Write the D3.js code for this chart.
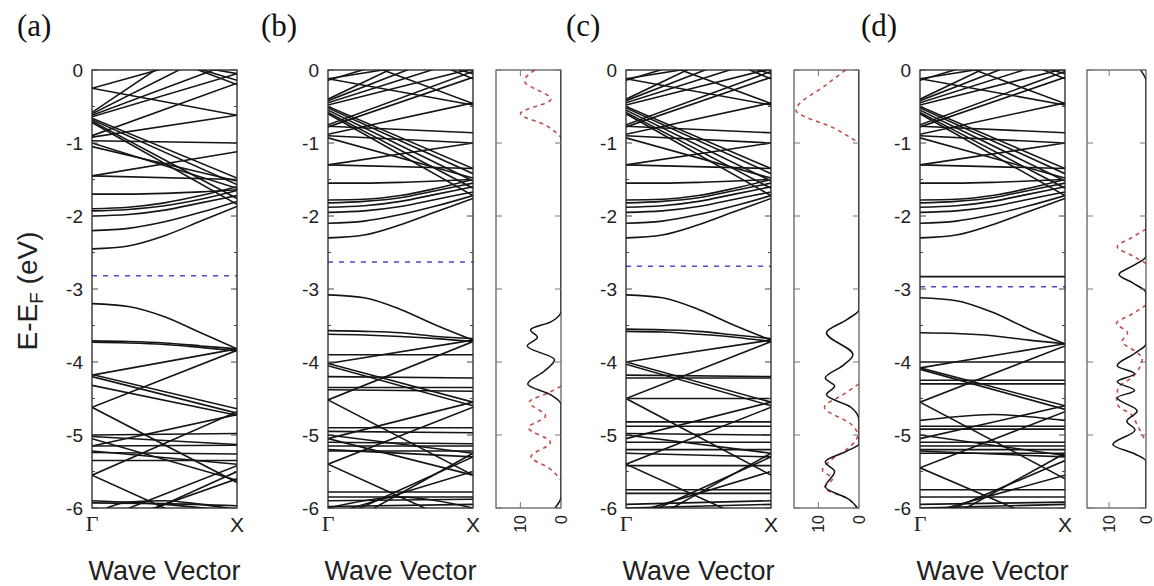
<!DOCTYPE html>
<html>
<head>
<meta charset="utf-8">
<script src="https://cdn.jsdelivr.net/npm/d3@7"></script>
<style>
  body { margin: 0; background: #fff; }
  text { font-family: "Liberation Sans", Arial, sans-serif; }
</style>
</head>
<body>
<script>
// energies (eV) of each band, sampled evenly from Gamma (first) to X (last)
var bandsA = [
  [-0.25, -0.62], [-0.25, 0.3], [-0.58, 0.75], [-0.6, 0.4], [-0.62, 0.12], [-0.64, -0.05],
  [-0.66, -1.48], [-0.68, -1.57], [-0.7, -1.76], [-0.72, -1.84],
  [-0.9, -0.18], [-0.92, -0.62], [-0.97, -1.0], [-1.0, -1.62], [-1.05, -1.52],
  [-1.45, -1.12], [-1.45, -1.5],
  [-1.7, -1.7, -1.69, -1.67, -1.64],
  [-1.9, -1.88, -1.82, -1.72, -1.6],
  [-1.93, -1.91, -1.86, -1.77, -1.65],
  [-2.0, -1.98, -1.92, -1.82, -1.72],
  [-2.2, -2.17, -2.08, -1.95, -1.8],
  [-2.45, -2.41, -2.27, -2.07, -1.87],
  [0.55, -0.2], [0.3, -0.05], [0.45, -0.14],
  [-3.2, -3.24, -3.38, -3.6, -3.82],
  [-3.71, -3.72, -3.74, -3.78, -3.82],
  [-3.73, -3.74, -3.76, -3.8, -3.85],
  [-4.18, -3.82], [-4.62, -3.84], [-4.17, -4.64], [-4.2, -4.7], [-4.32, -4.73],
  [-4.62, -5.65], [-5.0, -4.98], [-5.02, -5.13], [-5.05, -5.62], [-5.15, -4.72],
  [-5.15, -5.14], [-5.22, -5.4], [-5.24, -5.26], [-5.35, -5.35], [-5.55, -4.68],
  [-5.55, -6.45], [-6.2, -5.42], [-6.3, -5.6], [-6.4, -5.5],
  [-5.9, -5.95, -6.05], [-5.93, -5.94, -5.97],
  [-6.1, -5.92, -5.9, -5.95, -6.02]
];

var upperBCD = [
  [-0.12, -0.48], [-0.12, 0.2], [-0.14, 0.45],
  [-0.4, 0.55], [-0.42, 0.35], [-0.45, 0.18], [-0.48, 0.02],
  [-0.5, -1.35], [-0.52, -1.42], [-0.55, -1.52], [-0.58, -1.62], [-0.6, -1.72],
  [-0.75, -0.02], [-0.78, -0.1], [-0.77, -0.86], [-0.88, -0.45], [-0.9, -1.0], [-0.93, -1.48],
  [-1.3, -1.0], [-1.3, -1.35],
  [-1.55, -1.55, -1.54, -1.52, -1.5],
  [-1.78, -1.77, -1.72, -1.62, -1.5],
  [-1.82, -1.8, -1.75, -1.65, -1.55],
  [-1.88, -1.86, -1.8, -1.7, -1.6],
  [-1.95, -1.93, -1.87, -1.77, -1.67],
  [-2.1, -2.07, -1.98, -1.86, -1.72],
  [-2.3, -2.26, -2.12, -1.94, -1.76],
  [0.5, -0.05], [0.35, 0.0], [0.28, -0.46], [0.7, -0.12]
];

var lowerB = [
  [-3.08, -3.12, -3.28, -3.5, -3.7],
  [-3.57, -3.58, -3.6, -3.65, -3.68],
  [-3.62, -3.63, -3.65, -3.68, -3.72],
  [-3.9, -3.9], [-4.02, -3.7], [-4.02, -4.55], [-4.05, -4.6], [-4.2, -4.22],
  [-4.35, -4.35], [-4.38, -4.4], [-4.52, -3.72], [-4.52, -5.55], [-4.9, -4.9],
  [-4.95, -4.97], [-5.0, -5.25], [-5.05, -4.55], [-5.1, -5.12], [-5.15, -5.15],
  [-5.2, -5.3], [-5.22, -5.22], [-5.4, -4.62], [-5.4, -6.3], [-5.05, -5.55],
  [-5.78, -5.78], [-5.85, -5.85], [-5.9, -5.88], [-6.2, -5.3], [-6.1, -5.5],
  [-6.35, -5.25], [-5.98, -5.95], [-6.0, -5.9, -5.85, -5.9, -6.0]
];

var lowerC = [
  [-3.08, -3.12, -3.28, -3.5, -3.7],
  [-3.55, -3.56, -3.58, -3.63, -3.68],
  [-3.58, -3.59, -3.62, -3.66, -3.72],
  [-4.0, -3.7], [-4.0, -4.55], [-4.03, -4.6], [-4.18, -4.2], [-4.22, -4.22],
  [-4.5, -3.72], [-4.5, -4.5], [-4.5, -5.55], [-4.82, -4.82], [-4.88, -4.88],
  [-4.98, -5.0], [-5.0, -5.25], [-5.05, -4.55], [-5.1, -5.1], [-5.2, -5.2],
  [-5.25, -5.3], [-5.42, -5.42], [-5.4, -4.62], [-5.4, -6.3], [-5.75, -5.75],
  [-5.8, -5.8], [-5.95, -5.9], [-6.2, -5.3], [-6.1, -5.5], [-6.35, -5.25], [-6.0, -5.95]
];

var lowerD = [
  [-2.83, -2.83],
  [-3.12, -3.16, -3.32, -3.55, -3.75],
  [-3.6, -3.61, -3.64, -3.7, -3.75],
  [-4.0, -4.0], [-4.08, -3.75], [-4.08, -4.6], [-4.1, -4.65], [-4.25, -4.25],
  [-4.3, -4.3], [-4.55, -3.78], [-4.55, -5.6],
  [-4.8, -4.75, -4.72, -4.75, -4.8],
  [-4.88, -4.88], [-4.92, -4.92], [-5.0, -5.28], [-5.05, -4.6], [-5.1, -5.1],
  [-5.15, -5.15], [-5.2, -5.2], [-5.25, -5.25], [-5.22, -5.3], [-5.45, -4.68],
  [-5.45, -6.3], [-5.75, -5.75], [-5.85, -5.85], [-5.95, -5.92],
  [-6.2, -5.35], [-6.1, -5.55], [-6.35, -5.25], [-6.0, -5.95]
];

var fermiLevels = [-2.82, -2.63, -2.69, -2.97];

// density of states: [energy, value]
var dosBlackB = [[0, 0], [-3.3, 0], [-3.45, 2.5], [-3.56, 7.5], [-3.66, 5.8], [-3.78, 8.3],
  [-3.97, 1.6], [-4.12, 4], [-4.3, 8.2], [-4.45, 2.5], [-4.58, 0], [-5.85, 0], [-6, 1.5]];
var dosRedB = [
  [[0, 6.5], [-0.15, 9], [-0.4, 2.5], [-0.6, 10], [-0.75, 4], [-0.92, 0]],
  [[-4.33, 0], [-4.42, 3], [-4.55, 7.8], [-4.74, 3.8], [-4.9, 8], [-5.1, 2.6], [-5.3, 7.4], [-5.45, 3], [-5.62, 0]]
];
var dosBlackC = [[0, 0], [-3.28, 0], [-3.42, 3], [-3.6, 8], [-3.9, 1.5], [-4.05, 4], [-4.22, 8.3],
  [-4.33, 6], [-4.45, 8], [-4.62, 2], [-4.8, 0], [-5.12, 0], [-5.22, 3], [-5.37, 8.3],
  [-5.5, 6], [-5.71, 8.3], [-5.88, 2.5], [-6, 0.3]];
var dosRedC = [
  [[0, 3.3], [-0.2, 8], [-0.55, 15.5], [-0.8, 6], [-1.0, 0]],
  [[-4.3, 0], [-4.45, 4], [-4.62, 8.5], [-4.85, 2], [-5.0, 0.3], [-5.15, 2], [-5.35, 7],
   [-5.48, 9], [-5.6, 6.5], [-5.72, 8.5], [-5.88, 2.5], [-6, 0.5]]
];
var dosBlackD = [[0, 1.5], [-0.15, 0], [-2.55, 0], [-2.68, 3.5], [-2.8, 7.3], [-2.92, 3.5],
  [-3.05, 0], [-3.75, 0], [-3.88, 3], [-4.05, 7.8], [-4.16, 3.1], [-4.27, 7.8], [-4.39, 3.1],
  [-4.49, 7.8], [-4.67, 2.4], [-4.81, 5.2], [-4.93, 3], [-5.13, 9], [-5.26, 3], [-5.36, 0], [-6, 0]];
var dosRedD = [
  [[-2.18, 0], [-2.3, 4], [-2.42, 7.8], [-2.55, 3.5], [-2.65, 0]],
  [[-3.22, 0], [-3.35, 4], [-3.47, 8], [-3.6, 5], [-3.72, 6.5], [-3.85, 3], [-3.95, 1],
   [-4.05, 1.5], [-4.2, 3.5], [-4.35, 7.5], [-4.5, 8], [-4.6, 7.5], [-4.72, 4], [-4.85, 2.5],
   [-5.0, 1], [-5.1, 0]]
];

var yTickValues = [0, -1, -2, -3, -4, -5, -6];
var yMinorValues = [-0.5, -1.5, -2.5, -3.5, -4.5, -5.5];
var dosTickValues = [10, 0];
var kLabels = ["\u0393", "X"];

var w = 1154, h = 586;
var svg = d3.select("body").append("svg").attr("width", w).attr("height", h);
var defs = svg.append("defs");

var y = d3.scaleLinear().domain([-6, 0]).range([508, 70]);

var panels = [
  { label: "(a)", lx: 17, bx: [92, 237], bands: bandsA, fermi: fermiLevels[0] },
  { label: "(b)", lx: 261, bx: [328, 473], dx: [496, 561], bands: upperBCD.concat(lowerB),
    fermi: fermiLevels[1], black: dosBlackB, red: dosRedB },
  { label: "(c)", lx: 566, bx: [626, 771], dx: [794, 859], bands: upperBCD.concat(lowerC),
    fermi: fermiLevels[2], black: dosBlackC, red: dosRedC },
  { label: "(d)", lx: 861, bx: [920, 1065], dx: [1087, 1146], bands: upperBCD.concat(lowerD),
    fermi: fermiLevels[3], black: dosBlackD, red: dosRedD }
];

function yTicks(g, x0, x1) {
  yTickValues.forEach(function(v) {
    g.append("line").attr("x1", x0).attr("x2", x0 + 6).attr("y1", y(v)).attr("y2", y(v));
    g.append("line").attr("x1", x1).attr("x2", x1 - 6).attr("y1", y(v)).attr("y2", y(v));
  });
}

panels.forEach(function(p, pi) {
  var g = svg.append("g");
  var x = d3.scaleLinear().domain([0, 1]).range(p.bx);

  defs.append("clipPath").attr("id", "clipB" + pi)
    .append("rect").attr("x", p.bx[0]).attr("y", y(0))
    .attr("width", p.bx[1] - p.bx[0]).attr("height", y(-6) - y(0));

  var line = d3.line()
    .x(function(d, i, arr) { return x(i / (arr.length - 1)); })
    .y(function(d) { return y(d); })
    .curve(d3.curveMonotoneX);

  g.append("g").attr("clip-path", "url(#clipB" + pi + ")")
    .selectAll("path").data(p.bands).enter().append("path")
    .attr("d", line)
    .attr("fill", "none")
    .attr("stroke", "#151515")
    .attr("stroke-width", 1.6);

  // fermi level
  g.append("line")
    .attr("x1", p.bx[0]).attr("x2", p.bx[1])
    .attr("y1", y(p.fermi)).attr("y2", y(p.fermi))
    .attr("stroke", "#4a4ac8").attr("stroke-width", 1.5)
    .attr("stroke-dasharray", "5,6");

  g.append("rect")
    .attr("x", p.bx[0]).attr("y", y(0))
    .attr("width", p.bx[1] - p.bx[0]).attr("height", y(-6) - y(0))
    .attr("fill", "none").attr("stroke", "#222").attr("stroke-width", 1.3);

  var tg = g.append("g").attr("stroke", "#444").attr("stroke-width", 1);
  yTicks(tg, p.bx[0], p.bx[1]);
  yMinorValues.forEach(function(v) {
    tg.append("line").attr("x1", p.bx[0]).attr("x2", p.bx[0] + 3).attr("y1", y(v)).attr("y2", y(v));
    tg.append("line").attr("x1", p.bx[1]).attr("x2", p.bx[1] - 3).attr("y1", y(v)).attr("y2", y(v));
  });

  g.selectAll(".ylab").data(yTickValues).enter().append("text")
    .attr("x", p.bx[0] - 9).attr("y", function(d) { return y(d); })
    .attr("dy", "0.36em")
    .attr("text-anchor", "end")
    .attr("font-size", 19).attr("fill", "#222")
    .text(function(d) { return d === 0 ? "0" : "-" + Math.abs(d); });

  g.append("text").attr("x", p.bx[0]).attr("y", 531)
    .attr("text-anchor", "middle")
    .style("font-family", "'Liberation Serif', 'Times New Roman', serif")
    .attr("font-size", 22).attr("fill", "#222").text(kLabels[0]);
  g.append("text").attr("x", p.bx[1]).attr("y", 532)
    .attr("text-anchor", "middle")
    .attr("font-size", 21).attr("fill", "#222").text(kLabels[1]);

  g.append("text").attr("x", (p.bx[0] + p.bx[1]) / 2).attr("y", 580)
    .attr("text-anchor", "middle")
    .attr("font-size", 27).attr("fill", "#222").text("Wave Vector");

  g.append("text").attr("x", p.lx).attr("y", 36)
    .style("font-family", "'Liberation Serif', 'Times New Roman', serif")
    .attr("font-size", 31).attr("fill", "#111").text(p.label);

  if (!p.dx) return;

  // density of states panel
  var dx = d3.scaleLinear().domain([16, 0]).range(p.dx);
  defs.append("clipPath").attr("id", "clipD" + pi)
    .append("rect").attr("x", p.dx[0]).attr("y", y(0))
    .attr("width", p.dx[1] - p.dx[0]).attr("height", y(-6) - y(0));

  var dline = d3.line()
    .x(function(d) { return dx(d[1]); })
    .y(function(d) { return y(d[0]); })
    .curve(d3.curveMonotoneY);

  var dg = g.append("g").attr("clip-path", "url(#clipD" + pi + ")");
  dg.selectAll(".red").data(p.red).enter().append("path")
    .attr("d", dline).attr("fill", "none")
    .attr("stroke", "#c0504d").attr("stroke-width", 1.6)
    .attr("stroke-dasharray", "4,4");
  dg.append("path").datum(p.black)
    .attr("d", dline).attr("fill", "none")
    .attr("stroke", "#111").attr("stroke-width", 1.5);

  g.append("rect")
    .attr("x", p.dx[0]).attr("y", y(0))
    .attr("width", p.dx[1] - p.dx[0]).attr("height", y(-6) - y(0))
    .attr("fill", "none").attr("stroke", "#444").attr("stroke-width", 1.1);

  var dt = g.append("g").attr("stroke", "#777").attr("stroke-width", 1);
  yTicks(dt, p.dx[0], p.dx[1]);
  dt.append("line").attr("x1", dx(10)).attr("x2", dx(10)).attr("y1", y(0)).attr("y2", y(0) + 6);
  dt.append("line").attr("x1", dx(10)).attr("x2", dx(10)).attr("y1", y(-6)).attr("y2", y(-6) - 6);

  g.selectAll(".dlab").data(dosTickValues).enter().append("text")
    .attr("transform", function(d) { return "translate(" + dx(d) + ",515) rotate(-90)"; })
    .attr("text-anchor", "end")
    .attr("dy", "0.36em")
    .attr("font-size", 16).attr("fill", "#222")
    .text(function(d) { return d; });
});

// y axis title
var yt = svg.append("text")
  .attr("transform", "translate(37,291) rotate(-90)")
  .attr("text-anchor", "middle")
  .attr("font-size", 28).attr("fill", "#222");
yt.append("tspan").text("E-E");
yt.append("tspan").attr("font-size", 19).attr("dy", 6).text("F");
yt.append("tspan").attr("dy", -6).text(" (eV)");
</script>
</body>
</html>
